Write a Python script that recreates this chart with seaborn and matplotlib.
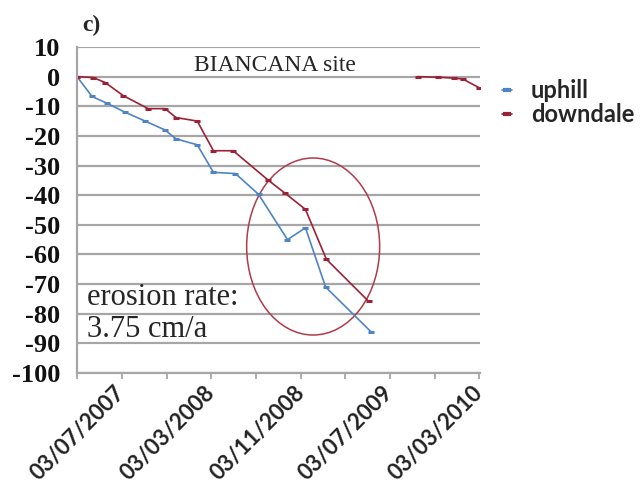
import matplotlib
matplotlib.use("Agg")
import matplotlib.pyplot as plt
import matplotlib.dates as mdates
from matplotlib.patches import Ellipse
import pandas as pd
import seaborn as sns

# values (cm)
uphill_dates = ["2007-03-03", "2007-04-13", "2007-05-24", "2007-07-12", "2007-09-05",
                "2007-10-29", "2007-11-28", "2008-01-25", "2008-03-09", "2008-05-08",
                "2008-07-10", "2008-09-27", "2008-11-15", "2009-01-09", "2009-05-12"]
uphill_values = [0, -6.7, -9, -12, -15, -18, -21, -23, -32.3, -32.7,
                 -39.7, -55, -51, -71, -86]

downdale_dates = ["2007-03-03", "2007-04-16", "2007-05-19", "2007-07-07", "2007-09-13",
                  "2007-10-29", "2007-11-28", "2008-01-25", "2008-03-09", "2008-05-02",
                  "2008-08-06", "2008-09-21", "2008-11-15", "2009-01-11", "2009-05-06"]
downdale_values = [0, -0.3, -2, -6.4, -10.8, -10.8, -13.8, -15, -25, -25,
                   -35, -39.4, -44.8, -61.6, -75.8]

downdale2_dates = ["2009-09-17", "2009-11-11", "2009-12-24", "2010-01-18", "2010-03-03"]
downdale2_values = [0, -0.2, -0.5, -0.8, -3.7]

tick_dates = ["2007-03-03", "2007-07-03", "2007-11-03", "2008-03-03", "2008-07-03",
              "2008-11-03", "2009-03-03", "2009-07-03", "2009-11-03", "2010-03-03"]
label_dates = ["2007-07-03", "2008-03-03", "2008-11-03", "2009-07-03", "2010-03-03"]
y_ticks = [10, 0, -10, -20, -30, -40, -50, -60, -70, -80, -90, -100]

blue = "#4f84c4"
red = "#9b2236"

df = pd.concat([
    pd.DataFrame({"date": uphill_dates, "value": uphill_values,
                  "series": "uphill", "segment": "u1"}),
    pd.DataFrame({"date": downdale_dates, "value": downdale_values,
                  "series": "downdale", "segment": "d1"}),
    pd.DataFrame({"date": downdale2_dates, "value": downdale2_values,
                  "series": "downdale", "segment": "d2"}),
], ignore_index=True)
df["date"] = pd.to_datetime(df["date"])

sns.set_theme(style="white")
plt.rcParams["axes.unicode_minus"] = False

fig = plt.figure(figsize=(6.41, 4.90), dpi=100)
ax = fig.add_axes([77 / 641, (490 - 373) / 490, 403 / 641, 326 / 490])

sns.lineplot(data=df, x="date", y="value", hue="series", units="segment",
             estimator=None, sort=False, palette={"uphill": blue, "downdale": red},
             marker="_", markersize=4.5, markeredgewidth=2.2, linewidth=1.2, ax=ax)
for ln in ax.get_lines():
    ln.set_markeredgecolor(ln.get_color())

ax.set_ylim(-100, 10)
ax.set_yticks(y_ticks)
ax.set_yticklabels([str(v) for v in y_ticks], fontfamily="Liberation Serif",
                   fontweight="bold", fontsize=19, color="#111111")
ax.set_xlim(pd.Timestamp("2007-03-03"), pd.Timestamp("2010-03-06"))
ax.set_xticks(pd.to_datetime(label_dates))
ax.set_xticks(pd.to_datetime(tick_dates), minor=True)
ax.xaxis.set_major_formatter(mdates.DateFormatter("%d/%m/%Y"))
for lab in ax.get_xticklabels():
    lab.set_fontfamily("Lato")
    lab.set_fontweight("bold")
    lab.set_fontsize(16)
    lab.set_rotation(45)
    lab.set_ha("right")
    lab.set_va("center")
    lab.set_rotation_mode("anchor")
    lab.set_color("#222222")
ax.tick_params(axis="x", which="both", direction="out", length=4, width=1.2,
               color="#a0a0a0", bottom=True, pad=8)
ax.tick_params(axis="y", length=0, pad=12)
ax.set_xlabel("")
ax.set_ylabel("")

ax.grid(axis="y", color="#a6a6a6", linewidth=1.6)
ax.grid(axis="x", visible=False)
for s in ["top", "right"]:
    ax.spines[s].set_visible(False)
for s in ["left", "bottom"]:
    ax.spines[s].set_color("#a6a6a6")
    ax.spines[s].set_linewidth(1.6)

ax.add_patch(Ellipse((0.586, 0.388), 0.33, 0.543, transform=ax.transAxes,
                     fill=False, edgecolor="#b23a4a", linewidth=1.1))

serif = "Liberation Serif"
ax.text(0.012, 1.066, "c)", transform=ax.transAxes, fontfamily=serif,
        fontweight="bold", fontsize=17, va="center", ha="left")
ax.text(0.49, 0.926, "BIANCANA site", transform=ax.transAxes, fontfamily=serif,
        fontsize=17, va="baseline", ha="center")
ax.text(0.025, 0.209, "erosion rate:", transform=ax.transAxes, fontfamily=serif,
        fontsize=22, va="baseline", ha="left")
ax.text(0.025, 0.110, "3.75 cm/a", transform=ax.transAxes, fontfamily=serif,
        fontsize=22, va="baseline", ha="left")

handles, labels = ax.get_legend_handles_labels()
for h in handles:
    h.set_markeredgecolor(h.get_color())
    h.set_markersize(6)
    h.set_markeredgewidth(3)
leg = ax.legend(handles, labels, loc="upper left", bbox_to_anchor=(1.03, 0.93),
                frameon=False, handlelength=0.45, handletextpad=0.8,
                labelspacing=0.05, borderaxespad=0,
                prop={"family": "Lato", "weight": "bold", "size": 17})

fig.savefig("out.png", dpi=100)
